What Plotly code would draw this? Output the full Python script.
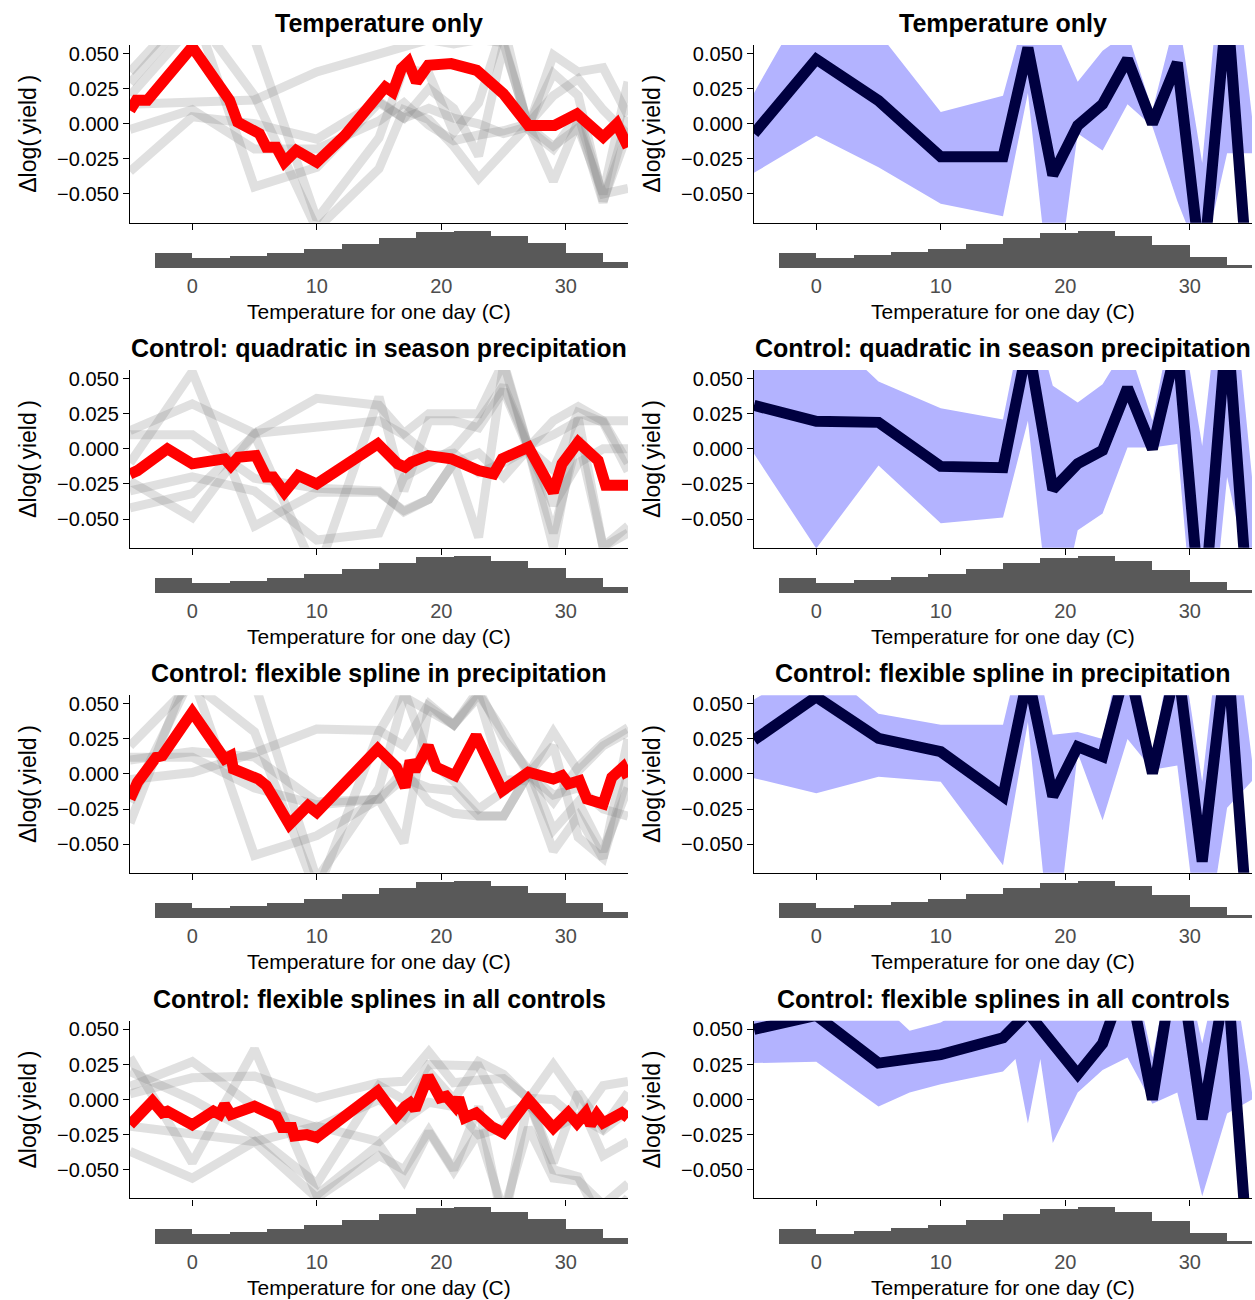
import plotly.graph_objects as go

W, H = 1255, 1300
FONT = "Liberation Sans, Arial, sans-serif"

# ---------------- data ----------------
titles = ["Temperature only",
          "Control: quadratic in season precipitation",
          "Control: flexible spline in precipitation",
          "Control: flexible splines in all controls"]

knots = [-5, 0, 5, 10, 15, 17, 19, 21, 23, 25, 27, 29, 31, 33, 35]

bin_centers = [-1.5, 1.5, 4.5, 7.5, 10.5, 13.5, 16.5, 19.5, 22.5, 25.5, 28.5, 31.5, 34.5]
hist_left = [15, 9.5, 11.7, 14.5, 19, 23.7, 29.7, 36, 37, 31.7, 24.7, 14.7, 5.7]
hist_right = [14.8, 9.8, 12.5, 15.7, 18.8, 23.7, 29.7, 35.2, 36.8, 31.7, 23.2, 11, 3.2]

# red (pooled) estimates, left column
red1_x = [-5, -4.5, -3.6, 0, 3.0, 3.65, 5.4, 5.95, 6.75, 7.4, 8.35, 10, 12.25, 15.5, 16.1, 16.8,
          17.35, 18.0, 18.95, 20.8, 22.85, 25.0, 27.0, 29.1, 30.9, 33.0, 34.1, 35]
red1_y = [0.0095, 0.0167, 0.0167, 0.0548, 0.0167, 0.0012, -0.0071, -0.0167, -0.0167, -0.0274,
          -0.019, -0.0274, -0.0083, 0.0262, 0.0226, 0.0393, 0.044, 0.0298, 0.0417, 0.0429, 0.0381,
          0.0214, -0.0012, -0.0012, 0.0071, -0.0095, 0.0, -0.0167]
red2_x = [-5, -4.4, -2.0, 0, 2.6, 3.1, 3.7, 5.1, 5.95, 6.5, 7.4, 8.5, 10, 14.9, 16.5, 17.1, 17.6,
          18.95, 20.8, 23, 24.2, 24.9, 27, 29, 29.7, 31, 32.6, 33.2, 35]
red2_y = [-0.0179, -0.0155, 0.0, -0.0107, -0.0071, -0.012, -0.006, -0.0048, -0.020, -0.020, -0.031,
          -0.019, -0.025, 0.0036, -0.0107, -0.013, -0.0095, -0.0048, -0.0071, -0.0155, -0.0179,
          -0.0071, 0.0012, -0.031, -0.0107, 0.0048, -0.0083, -0.026, -0.026]
red3_x = [-5, -4.4, -2.9, -2.4, 0, 2.6, 3.1, 3.3, 5.3, 5.95, 6.6, 7.8, 9.3, 10, 14.9, 16.4, 17.1,
          17.5, 17.9, 18.95, 19.6, 21.1, 22.8, 24.9, 27, 29, 29.7, 30.2, 31.1, 31.7, 33, 33.7, 34.6, 35]
red3_y = [-0.0179, -0.006, 0.0119, 0.013, 0.044, 0.0107, 0.013, 0.0036, -0.0036, -0.0083, -0.018,
          -0.036, -0.0226, -0.0274, 0.0179, 0.0048, -0.0095, 0.0095, 0.0024, 0.020, 0.0048, -0.0012,
          0.0274, -0.0119, 0.0012, -0.0036, -0.0012, -0.0071, -0.0048, -0.0179, -0.0214, -0.0024,
          0.0048, -0.0024]
red4_x = [-5, -3.2, -2.4, -2.0, 0, 1.7, 2.2, 2.6, 3.1, 5.0, 6.75, 7.2, 8.0, 8.2, 9.2, 10, 14.9, 16.4,
          17.1, 17.5, 17.9, 18.95, 19.9, 20.4, 21.1, 21.4, 21.9, 22.8, 24.0, 25, 27, 29, 30.2, 30.9,
          31.6, 32, 32.5, 33, 34.5, 35]
red4_y = [-0.018, -0.0012, -0.0095, -0.0083, -0.018, -0.0083, -0.0107, -0.0036, -0.0107, -0.0048,
          -0.012, -0.020, -0.020, -0.026, -0.025, -0.027, 0.006, -0.0119, -0.0048, -0.0024, -0.0071,
          0.0167, 0.0012, 0.0024, -0.0048, 0.0012, -0.013, -0.0095, -0.019, -0.0238, 0.0, -0.0202,
          -0.0095, -0.0167, -0.0095, -0.018, -0.0107, -0.0167, -0.0095, -0.013]

# grey single-run estimates at the knots, left column
grey1 = [
    [0.014, 0.0155, 0.017, 0.037, 0.05, 0.056, 0.06, 0.057, 0.06, 0.058, -0.002, 0.049, 0.037, 0.040, 0.006],
    [-0.034, 0.005, 0.0, -0.011, 0.016, 0.004, 0.011, 0.004, 0.0, -0.007, -0.002, -0.016, -0.003, -0.05, -0.046],
    [0.037, 0.085, -0.045, -0.031, 0.015, 0.004, 0.025, 0.011, -0.023, 0.056, -0.001, 0.036, 0.02, -0.055, -0.006],
    [0.029, 0.08, 0.02, -0.075, -0.032, 0.01, 0.003, -0.016, -0.039, -0.02, -0.001, -0.041, 0.002, -0.056, 0.005],
    [-0.004, 0.01, -0.018, -0.018, 0.002, 0.015, -0.001, -0.012, -0.008, -0.005, 0.0, 0.02, 0.032, 0.01, -0.008],
    [0.02, 0.07, 0.06, -0.068, -0.01, 0.04, 0.036, -0.006, 0.015, 0.07, -0.004, -0.018, 0.006, -0.05, 0.03],
]
grey2 = [
    [-0.01, 0.055, -0.055, -0.031, -0.031, -0.044, -0.036, -0.01, -0.063, 0.06, 0.0, -0.06, 0.008, -0.07, -0.06],
    [0.013, 0.032, 0.011, 0.036, 0.031, 0.011, 0.025, 0.025, 0.025, 0.062, 0.001, 0.02, 0.03, 0.02, -0.01],
    [0.01, 0.01, -0.021, -0.028, -0.03, -0.045, -0.036, -0.01, -0.003, -0.02, 0.0, -0.015, 0.026, 0.019, -0.016],
    [-0.042, -0.032, 0.01, -0.09, 0.037, -0.03, 0.02, 0.02, 0.015, 0.042, 0.0, -0.04, -0.01, 0.0, 0.0],
    [-0.023, -0.049, 0.011, 0.015, 0.02, 0.01, -0.005, -0.003, -0.017, -0.01, 0.0, -0.07, 0.022, -0.07, -0.055],
    [-0.03, -0.02, -0.03, -0.065, -0.06, -0.02, -0.01, 0.0, 0.02, 0.045, 0.002, 0.01, 0.02, 0.02, 0.02],
]
grey3 = [
    [0.01, 0.016, 0.012, -0.02, -0.018, 0.003, -0.02, -0.028, -0.03, -0.03, 0.0, -0.015, -0.01, -0.025, -0.03],
    [-0.004, 0.001, 0.015, 0.032, 0.031, 0.02, 0.05, 0.035, 0.057, 0.03, 0.0, 0.03, 0.002, 0.02, 0.03],
    [-0.035, 0.08, 0.065, -0.075, -0.01, 0.055, 0.045, 0.035, 0.06, 0.025, 0.003, -0.04, -0.02, -0.055, -0.01],
    [-0.02, 0.07, -0.058, -0.044, -0.018, -0.049, 0.048, 0.035, 0.055, -0.004, -0.005, -0.055, -0.03, -0.06, 0.025],
    [0.012, 0.012, -0.01, -0.022, -0.018, -0.003, -0.01, -0.012, -0.03, -0.03, 0.0, -0.02, 0.005, 0.022, 0.033],
    [0.02, 0.065, 0.03, -0.085, 0.03, 0.06, 0.01, -0.005, -0.025, -0.012, 0.0, 0.02, -0.045, -0.06, 0.0],
]
grey4 = [
    [0.03, -0.045, 0.036, -0.068, -0.032, -0.058, -0.023, -0.051, -0.023, -0.08, -0.02, -0.056, -0.058, -0.075, -0.06],
    [0.0095, 0.027, -0.005, -0.02, 0.0, -0.012, 0.02, 0.0, 0.027, 0.018, 0.0, 0.025, 0.0, -0.04, -0.03],
    [0.004, 0.0155, 0.0167, 0.001, 0.012, 0.013, 0.034, 0.012, 0.014, 0.015, 0.001, 0.0, -0.015, 0.01, 0.013],
    [-0.019, -0.024, -0.03, -0.019, -0.03, -0.015, -0.002, -0.005, -0.025, -0.02, 0.0, -0.045, 0.005, -0.02, 0.005],
    [-0.037, -0.056, -0.03, -0.07, -0.04, -0.05, -0.022, -0.05, -0.005, -0.09, 0.0, -0.05, -0.055, -0.09, -0.07],
    [0.02, 0.0, -0.025, -0.06, 0.01, 0.0, 0.025, 0.025, 0.024, -0.01, -0.004, -0.02, -0.012, -0.022, -0.008],
]

# navy estimates at knots, right column
navy1 = [-0.007, 0.046, 0.0165, -0.0236, -0.0236, 0.0542, -0.0366, -0.0012, 0.014, 0.046, 0.0, 0.0436, -0.11, 0.085, -0.15]
navy2 = [0.031, 0.0196, 0.0189, -0.0125, -0.0134, 0.075, -0.029, -0.0106, -0.001, 0.0436, 0.0, 0.075, -0.13, 0.09, -0.15]
navy3 = [0.0242, 0.055, 0.0254, 0.0159, -0.016, 0.07, -0.016, 0.0195, 0.0124, 0.08, 0.0005, 0.08, -0.0625, 0.09, -0.15]
navy4 = [0.05, 0.06, 0.026, 0.032, 0.044, 0.062, 0.04, 0.018, 0.040, 0.09, 0.0, 0.11, -0.014, 0.09, -0.15]

# confidence bands, right column
band1_x = knots
band1_hi = [0.022, 0.10, 0.065, 0.0083, 0.020, 0.085, 0.07, 0.03, 0.052, 0.065, 0.0094, 0.08, -0.028, 0.16, 0.005]
band1_lo = [-0.035, -0.0085, -0.031, -0.057, -0.066, 0.022, -0.14, -0.007, -0.019, 0.014, -0.002, -0.055, -0.10, -0.021, -0.021]
band2_x = knots
band2_hi = [0.08, 0.09, 0.048, 0.029, 0.021, 0.11, 0.045, 0.033, 0.046, 0.075, 0.02, 0.11, 0.002, 0.16, -0.02]
band2_lo = [-0.0035, -0.071, -0.0118, -0.053, -0.049, 0.02, -0.14, -0.058, -0.046, 0.001, 0.001, 0.0035, -0.2, -0.02, -0.1]
band3_x = knots
band3_hi = [0.053, 0.08, 0.043, 0.035, 0.035, 0.11, 0.028, 0.03, 0.025, 0.11, 0.0135, 0.11, -0.0055, 0.15, 0.01]
band3_lo = [-0.003, -0.0138, -0.002, -0.0055, -0.065, 0.037, -0.14, 0.015, -0.033, 0.025, 0.003, 0.006, -0.14, -0.024, -0.005]
band4_x = [-5, 0, 5, 7.5, 10, 15, 16, 17, 18, 19, 21, 23, 25, 27, 29, 31, 33, 35]
band4_hi = [0.07, 0.08, 0.07, 0.049, 0.055, 0.08, 0.09, 0.1, 0.09, 0.08, 0.06, 0.07, 0.11, 0.03, 0.12, 0.04, 0.12, 0.005]
band4_lo = [0.026, 0.027, -0.005, 0.005, 0.011, 0.020, 0.029, -0.017, 0.029, -0.031, 0.005, 0.021, 0.03, -0.003, 0.005, -0.069, -0.01, 0.0]

yticks = [-0.05, -0.025, 0.0, 0.025, 0.05]
yticktext = ["\u22120.050", "\u22120.025", "0.000", "0.025", "0.050"]
xticks = [0, 10, 20, 30]

reds = [(red1_x, red1_y), (red2_x, red2_y), (red3_x, red3_y), (red4_x, red4_y)]
greys = [grey1, grey2, grey3, grey4]
navys = [navy1, navy2, navy3, navy4]
bands = [(band1_x, band1_lo, band1_hi), (band2_x, band2_lo, band2_hi),
         (band3_x, band3_lo, band3_hi), (band4_x, band4_lo, band4_hi)]

# ---------------- layout geometry ----------------
col_x = [(130, 628), (754, 1252)]
row_top = [43, 368.6, 694.2, 1020.3]
PH = 178
YR = [-0.0705, 0.0562]


def aname(kind, n):
    return f"{kind}axis" if n == 1 else f"{kind}axis{n}"


def aref(kind, n):
    return kind if n == 1 else f"{kind}{n}"


fig = go.Figure()
layout = {}
annotations = []

for r in range(4):
    for c in range(2):
        i = r * 2 + c
        m, h = 2 * i + 1, 2 * i + 2
        x0, x1 = col_x[c]
        top = row_top[r]
        axis_y = top + PH
        xdom = [x0 / W, x1 / W]
        layout[aname("x", m)] = dict(domain=xdom, anchor=aref("y", m), range=[-5, 35],
                                     tickvals=xticks, showticklabels=False, ticks="outside",
                                     ticklen=6, tickwidth=1.2, tickcolor="black", showline=True,
                                     linecolor="black", linewidth=1.3, showgrid=False, zeroline=False)
        layout[aname("y", m)] = dict(domain=[1 - axis_y / H, 1 - top / H], anchor=aref("x", m),
                                     range=YR, tickvals=yticks, ticktext=yticktext, ticks="outside",
                                     ticklen=6, tickwidth=1.2, tickcolor="black", showline=True,
                                     linecolor="black", linewidth=1.3, showgrid=False, zeroline=False,
                                     tickfont=dict(family=FONT, size=20, color="black"))
        layout[aname("x", h)] = dict(domain=xdom, anchor=aref("y", h), range=[-5, 35],
                                     tickvals=xticks, ticks="", showline=False, showgrid=False,
                                     zeroline=False, ticklabelstandoff=4,
                                     tickfont=dict(family=FONT, size=20, color="#4D4D4D"))
        layout[aname("y", h)] = dict(domain=[1 - (axis_y + 45.5) / H, 1 - (axis_y + 5.5) / H],
                                     anchor=aref("x", h), range=[0, 40], visible=False)

        xm, ym = aref("x", m), aref("y", m)
        if c == 0:
            for g in greys[r]:
                fig.add_trace(go.Scatter(x=knots, y=g, mode="lines", xaxis=xm, yaxis=ym,
                                         line=dict(color="rgba(127,127,127,0.24)", width=9),
                                         hoverinfo="skip"))
            rx, ry = reds[r]
            fig.add_trace(go.Scatter(x=rx, y=ry, mode="lines", xaxis=xm, yaxis=ym,
                                     line=dict(color="#FF0000", width=11)))
            hist = hist_left
        else:
            bx, blo, bhi = bands[r]
            fig.add_trace(go.Scatter(x=bx, y=blo, mode="lines", xaxis=xm, yaxis=ym,
                                     line=dict(width=0, color="rgba(0,0,0,0)"), hoverinfo="skip"))
            fig.add_trace(go.Scatter(x=bx, y=bhi, mode="lines", xaxis=xm, yaxis=ym, fill="tonexty",
                                     fillcolor="#B3B3FF", line=dict(width=0, color="rgba(0,0,0,0)"),
                                     hoverinfo="skip"))
            fig.add_trace(go.Scatter(x=knots, y=navys[r], mode="lines", xaxis=xm, yaxis=ym,
                                     line=dict(color="#000040", width=11)))
            hist = hist_right

        fig.add_trace(go.Bar(x=bin_centers, y=hist, width=3, xaxis=aref("x", h), yaxis=aref("y", h),
                             marker=dict(color="#595959", line=dict(width=0))))

        cx = (x0 + x1) / 2
        annotations.append(dict(text=f"<b>{titles[r]}</b>", x=cx / W, y=1 - (top - 22) / H,
                                xref="paper", yref="paper", showarrow=False, xanchor="center",
                                yanchor="middle", font=dict(family=FONT, size=25, color="black")))
        annotations.append(dict(text="Temperature for one day (C)", x=cx / W,
                                y=1 - (axis_y + 89) / H, xref="paper", yref="paper",
                                showarrow=False, xanchor="center", yanchor="middle",
                                font=dict(family=FONT, size=21, color="black")))
        annotations.append(dict(text="\u0394log(\u2009yield\u2009)", x=(28 if c == 0 else 652) / W,
                                y=1 - (top + PH / 2) / H, xref="paper", yref="paper",
                                showarrow=False, textangle=-90, xanchor="center", yanchor="middle",
                                font=dict(family=FONT, size=23, color="black")))

fig.update_layout(**layout)
fig.update_layout(width=W, height=H, margin=dict(l=0, r=0, t=0, b=0), showlegend=False,
                  plot_bgcolor="white", paper_bgcolor="white", bargap=0,
                  annotations=annotations, font=dict(family=FONT))
fig.write_html("out.html", config={"displayModeBar": False},
               post_script="document.body.style.margin='0px';document.body.style.padding='0px';")
